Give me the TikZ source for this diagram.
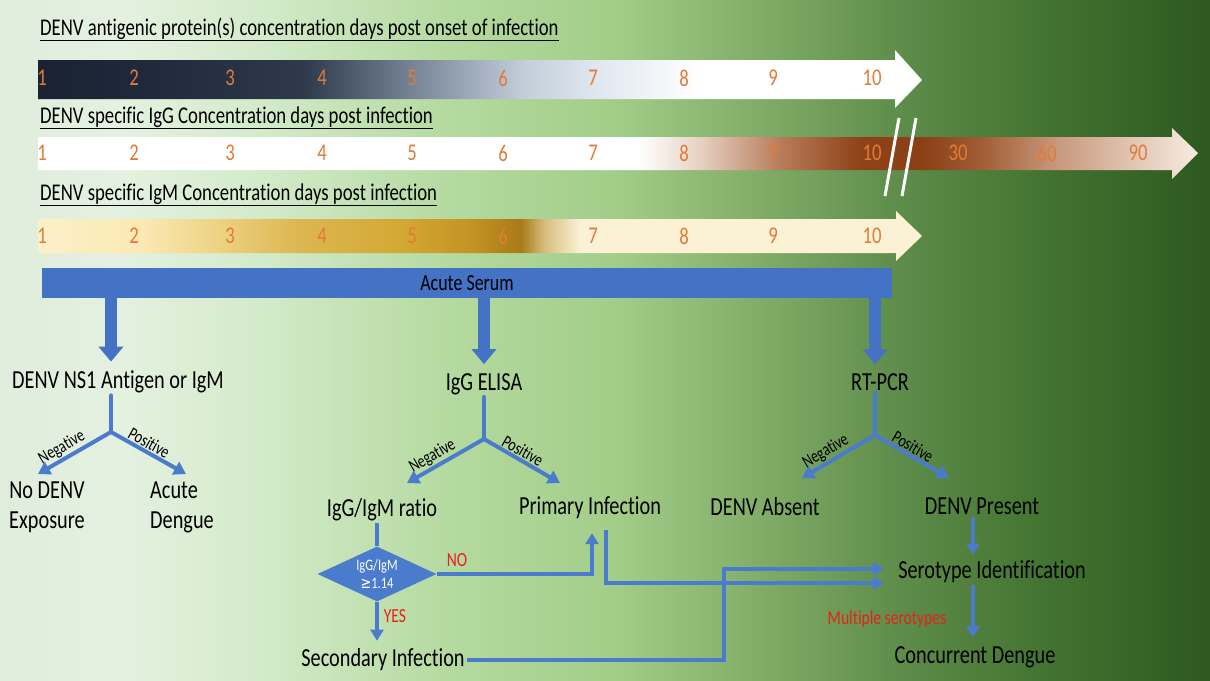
\documentclass[tikz,border=0pt]{standalone}
\usepackage{fontspec}
\setmainfont{Carlito}[FakeStretch=0.78, Ligatures={TeX,NoCommon}]
\newfontfamily\symfont{DejaVu Sans}[FakeStretch=0.8]
\usetikzlibrary{arrows.meta,shapes.geometric}

\definecolor{barblue}{HTML}{4472C4}
\definecolor{dblue}{HTML}{4B7BCC}
\definecolor{numorange}{HTML}{E07B39}
\definecolor{nored}{HTML}{E8211C}

\definecolor{bg0}{HTML}{E0EDDC}
\definecolor{bg1}{HTML}{E4F1E0}
\definecolor{bg2}{HTML}{D4EBCB}
\definecolor{bg3}{HTML}{B5DAA0}
\definecolor{bg4}{HTML}{A2CD88}
\definecolor{bg5}{HTML}{80AC67}
\definecolor{bg6}{HTML}{5F8D4B}
\definecolor{bg7}{HTML}{42722F}
\definecolor{bg8}{HTML}{2D5821}
\pgfdeclarehorizontalshading{bgshade}{100bp}{color(0bp)=(bg0); color(25bp)=(bg0); color(30bp)=(bg1);
  color(35.5bp)=(bg2); color(43.5bp)=(bg3); color(50.5bp)=(bg4); color(56.5bp)=(bg5);
  color(62bp)=(bg6); color(68.5bp)=(bg7); color(75bp)=(bg8); color(100bp)=(bg8)}

\definecolor{ag0}{HTML}{1A2233}
\definecolor{ag1}{HTML}{1F2A3C}
\definecolor{ag2}{HTML}{2E3A4C}
\definecolor{ag3}{HTML}{7A889A}
\definecolor{ag4}{HTML}{C3CEDA}
\definecolor{ag5}{HTML}{E2E9F1}
\pgfdeclarehorizontalshading{agshade}{100bp}{color(0bp)=(ag0); color(25bp)=(ag0); color(31.5bp)=(ag1);
  color(40bp)=(ag2); color(46.5bp)=(ag3); color(52.5bp)=(ag4); color(57bp)=(ag5);
  color(62.5bp)=(white); color(100bp)=(white)}

\definecolor{gg1}{HTML}{E6D2C4}
\definecolor{gg2}{HTML}{B87C5A}
\definecolor{gg3}{HTML}{8E4318}
\definecolor{gg4}{HTML}{8A3F14}
\definecolor{gg5}{HTML}{A05C34}
\definecolor{gg6}{HTML}{C99A7E}
\definecolor{gg7}{HTML}{F7ECE2}
\pgfdeclarehorizontalshading{iggshade}{100bp}{color(0bp)=(white); color(50.9bp)=(white); color(53.5bp)=(gg1);
  color(57bp)=(gg2); color(60.4bp)=(gg3); color(63bp)=(gg4); color(65.6bp)=(gg5);
  color(69bp)=(gg6); color(75bp)=(gg7); color(100bp)=(gg7)}

\definecolor{mg0}{HTML}{FCF0C8}
\definecolor{mg1}{HTML}{FBE9B4}
\definecolor{mg2}{HTML}{F0D88E}
\definecolor{mg3}{HTML}{DCB650}
\definecolor{mg4}{HTML}{D3A834}
\definecolor{mg5}{HTML}{C49424}
\definecolor{mg6}{HTML}{A97A18}
\definecolor{mg7}{HTML}{D9BF80}
\definecolor{mg8}{HTML}{FBF2D6}
\pgfdeclarehorizontalshading{igmshade}{100bp}{color(0bp)=(mg0); color(25bp)=(mg0); color(30.8bp)=(mg1);
  color(34.2bp)=(mg2); color(39.8bp)=(mg3); color(45.5bp)=(mg4); color(49.4bp)=(mg5);
  color(52.3bp)=(mg6); color(53.7bp)=(mg7); color(55.7bp)=(mg8); color(100bp)=(mg8)}

\begin{document}
\begin{tikzpicture}[x=1pt, y=-1pt,
    every node/.style={inner sep=2pt},
    lbl/.style={font=\fontsize{26}{30}\selectfont},
    ttl/.style={font=\fontsize{24}{26}\selectfont, anchor=base west, inner sep=0},
    num/.style={text=numorange, font=\fontsize{24}{26}\selectfont, inner sep=0},
    tag/.style={font=\fontsize{18}{19}\selectfont, inner sep=1pt, sloped, above},
    redtag/.style={text=nored, font=\fontsize{20}{21}\selectfont},
    serumbar/.style={fill=barblue, minimum width=850pt, minimum height=30pt, inner sep=0, font=\fontsize{23}{24}\selectfont},
    decision/.style={diamond, fill=dblue, text=white, aspect=2.16, minimum width=119pt, minimum height=55pt,
      inner sep=0, align=center, font=\fontsize{16}{18}\selectfont},
    bigarrow/.style={draw=barblue, line width=12pt, -{Triangle[width=24pt,length=15pt]}, shorten >=7pt},
    branch/.style={draw=dblue, line width=4pt, line cap=round},
    forkr/.style={branch, -{Triangle[width=14pt,length=12pt]}},
    forkl/.style={branch, {Triangle[width=14pt,length=12pt]}-},
    link/.style={draw=dblue, line width=4pt, -{Triangle[width=13pt,length=11pt]}},
    plain/.style={draw=dblue, line width=4pt}]

    \useasboundingbox (0,0) rectangle (1210,680);
    \shade[shading=bgshade] (0,0) rectangle (1210,680);

    \shade[shading=agshade] (38,60) -- (895,60) -- (895,50) -- (922,80) -- (895,108) -- (895,99) -- (38,99) -- cycle;
    \shade[shading=iggshade] (38,137) -- (1172,137) -- (1172,128) -- (1198,153) -- (1172,179) -- (1172,170) -- (38,170) -- cycle;
    \shade[shading=igmshade] (38,219) -- (896,219) -- (896,211) -- (922,236) -- (896,261) -- (896,253) -- (38,253) -- cycle;
    \draw[white, line width=3pt] (885,196) -- (899,118) (902,196) -- (916,118);

    \node[ttl] (ttlag) at (40,35) {\underline{DENV antigenic protein(s) concentration days post onset of infection}};
    \node[ttl] (ttlg) at (40,123) {\underline{DENV specific IgG Concentration days post infection}};
    \node[ttl] (ttlm) at (40,200) {\underline{DENV specific IgM Concentration days post infection}};

    \foreach \y in {78,153,236}
        \foreach \x [count=\d] in {42,134,230,322,412,503,593,684,773,872}
            \node[num] (n\y-\d) at (\x,\y) {\d};
    \foreach \x/\d in {958/30,1047/60,1138/90}
        \node[num] (n153-\d) at (\x,153) {\d};

    \node[serumbar] (serum) at (467,283) {Acute Serum};

    \node[lbl] (ns1) at (118,382) {DENV NS1 Antigen or IgM};
    \node[lbl] (elisa) at (484,384) {IgG ELISA};
    \node[lbl] (rtpcr) at (880,382) {RT-PCR};
    \node[lbl, align=center] (noexp) at (47,507) {No DENV\\Exposure};
    \node[lbl, align=left] (acute) at (182,507) {Acute\\Dengue};
    \node[lbl] (ratio) at (382,510) {IgG/IgM ratio};
    \node[lbl] (primary) at (590,508) {Primary Infection};
    \node[lbl] (absent) at (765,507) {DENV Absent};
    \node[lbl] (present) at (982,506) {DENV Present};
    \node[lbl] (serotype) at (992,572) {Serotype Identification};
    \node[lbl] (secondary) at (383,660) {Secondary Infection};
    \node[lbl] (concurrent) at (975,657) {Concurrent Dengue};
    \node[decision] (dec) at (377,574) {IgG/IgM\\{\symfont ≥}1.14};
    \node[redtag] (no) at (457,560) {NO};
    \node[redtag] (yes) at (395,616) {YES};
    \node[redtag] (multi) at (887,619) {Multiple serotypes};

    \coordinate (f1) at (111,432);
    \coordinate (f1l) at (38,474);
    \coordinate (f1r) at (186,474);
    \coordinate (f2) at (484,439);
    \coordinate (f2l) at (407,483);
    \coordinate (f2r) at (560,483);
    \coordinate (f3) at (875,435);
    \coordinate (f3l) at (802,478);
    \coordinate (f3r) at (949,478);
    \coordinate (jogx) at (724,0);
    \coordinate (serin1) at ([xshift=-12pt,yshift=3pt]serotype.west);
    \coordinate (serin2) at ([xshift=-12pt,yshift=-11pt]serotype.west);
    \coordinate (pr) at ([xshift=-9pt]present.south);
    \coordinate (sr) at (pr |- serotype.south);

    \draw[bigarrow] (serum.south -| f1) -- (f1 |- ns1.north);
    \draw[bigarrow] (serum.south -| f2) -- (f2 |- elisa.north);
    \draw[bigarrow] (serum.south -| f3) -- (f3 |- rtpcr.north);

    \draw[branch] (f1 |- ns1.south) -- (f1);
    \draw[forkl] (f1l) -- node[tag, pos=0.4] {Negative} (f1);
    \draw[forkr] (f1) -- node[tag, pos=0.45] {Positive} (f1r);
    \draw[branch] (f2 |- elisa.south) -- (f2);
    \draw[forkl] (f2l) -- node[tag, pos=0.4] {Negative} (f2);
    \draw[forkr] (f2) -- node[tag, pos=0.45] {Positive} (f2r);
    \draw[branch] (f3 |- rtpcr.south) -- (f3);
    \draw[forkl] (f3l) -- node[tag, pos=0.4] {Negative} (f3);
    \draw[forkr] (f3) -- node[tag, pos=0.45] {Positive} (f3r);

    \draw[plain] (dec.north |- ratio.south) -- (dec.north);
    \draw[link] (dec.east) -| ([xshift=2pt,yshift=-12pt]primary.south);
    \draw[link, shorten >=6pt] (dec.south) -- (dec.south |- secondary.north);
    \draw[link] ([xshift=16pt,yshift=-9pt]primary.south) |- (serin2);
    \draw[link] (secondary.east) -- (secondary.east -| jogx) |- (serin1);
    \draw[link, shorten >=4pt] (pr) -- (pr |- serotype.north);
    \draw[link, shorten >=7pt] (sr) -- (sr |- concurrent.north);
\end{tikzpicture}
\end{document}
